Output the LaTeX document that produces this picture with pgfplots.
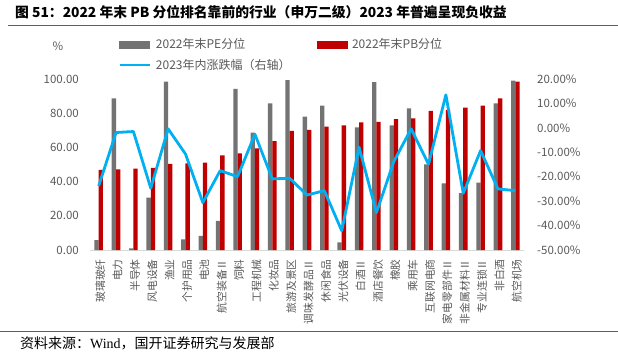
\documentclass[border=0pt]{standalone}
\usepackage{fontspec}
\setmainfont{Noto Sans CJK SC}
\newfontfamily\serifl{Liberation Serif}
\usepackage{pgfplots}
\pgfplotsset{compat=1.18}
\definecolor{peg}{RGB}{115,115,115}
\definecolor{pbr}{RGB}{192,0,0}
\definecolor{lnb}{RGB}{0,176,240}
\definecolor{txg}{RGB}{89,89,89}
\definecolor{axg}{RGB}{217,217,217}
\definecolor{rl}{RGB}{205,45,55}

\pgfplotstableread{
x pe pb ret
0 5.8 46.8 -23.8
1 88.7 47.2 -1.9
2 1.0 47.6 -1.5
3 30.6 48.1 -24.7
4 98.4 50.3 -0.4
5 6.2 50.7 -10.7
6 8.2 51.1 -30.6
7 17.0 55.4 -17.5
8 94.2 56.5 -20.0
9 68.6 59.5 -2.6
10 85.8 63.7 -20.9
11 99.4 69.6 -20.6
12 78.0 70.2 -27.5
13 84.4 72.1 -25.7
14 4.5 72.9 -42.1
15 71.7 74.6 -7.9
16 98.2 75.0 -34.7
17 72.9 76.6 -13.8
18 82.8 77.0 -0.4
19 50.1 81.3 -14.9
20 39.0 81.9 13.5
21 33.2 83.2 -26.8
22 39.4 84.4 -9.3
23 85.8 88.7 -25.0
24 99.0 98.4 -25.7
}\datatable

\begin{document}
\begin{tikzpicture}[x=1pt,y=1pt]
\path[use as bounding box] (0,0) rectangle (618,357);
\node[anchor=west, inner sep=0pt, font=\fontsize{13.8}{15}\selectfont\bfseries] at (15,345) {图 51：2022 年末 PB 分位排名靠前的行业（申万二级）2023 年普遍呈现负收益};
\draw[rl, line width=0.9pt] (8,332) -- (618,332);
\draw[rl, line width=0.9pt] (0,26) -- (618,26);
\node[anchor=west, inner sep=0pt, font=\fontsize{14}{15}\selectfont] at (20,14) {资料来源：{\serifl Wind}，国开证券研究与发展部};

\begin{axis}[
  at={(90pt,107pt)}, anchor=south west,
  scale only axis, width=434pt, height=171pt,
  xmin=-0.5, xmax=24.5, ymin=0, ymax=100,
  axis x line*=bottom, axis y line*=left,
  x axis line style={axg, line width=1pt, -},
  y axis line style={draw=none},
  major tick length=0pt,
  ytick={0,20,...,100},
  /pgf/number format/assume math mode=true,
  yticklabel style={font=\fontsize{11.5}{13}\selectfont, text=txg, inner sep=0pt, xshift=-11pt,
    /pgf/number format/.cd, fixed, fixed zerofill, precision=2},
  xtick={0,...,24},
  xticklabels={玻璃玻纤,电力,半导体,风电设备,渔业,个护用品,电池,航空装备Ⅱ,饲料,工程机械,化妆品,旅游及景区,调味发酵品Ⅱ,休闲食品,光伏设备,白酒Ⅱ,酒店餐饮,橡胶,乘用车,互联网电商,家电零部件Ⅱ,非金属材料Ⅱ,专业连锁Ⅱ,非白酒,航空机场},
  xticklabel shift=9pt,
  xticklabel style={font=\fontsize{10.8}{12}\selectfont, text=txg, rotate=90, anchor=east, inner sep=0pt, yshift=-1.5pt},
  ybar=0pt, bar width=4.3pt,
  clip=false,
]
\addplot[fill=peg, draw=none] table[x=x, y=pe] {\datatable};
\addplot[fill=pbr, draw=none] table[x=x, y=pb] {\datatable};
\node[font=\fontsize{11.5}{13}\selectfont, text=txg] at (rel axis cs:-0.0737,1.193) {\%};
\end{axis}

\begin{axis}[
  at={(90pt,107pt)}, anchor=south west,
  scale only axis, width=434pt, height=171pt,
  xmin=-0.5, xmax=24.5, ymin=-50, ymax=20,
  axis x line=none, axis y line*=right,
  y axis line style={draw=none},
  major tick length=0pt,
  ytick={-50,-40,...,20},
  /pgf/number format/assume math mode=true,
  yticklabel={\pgfmathprintnumber[fixed, fixed zerofill, precision=2]{\tick}\%},
  yticklabel style={font=\fontsize{11.5}{13}\selectfont, text=txg, inner sep=0pt, anchor=west, xshift=13pt},
  legend columns=2,
  legend cell align=left,
  legend style={at={(0.0645,1.25)}, anchor=north west, draw=none, fill=none,
    font=\fontsize{12}{14}\selectfont, text=txg, inner sep=0pt,
    /tikz/every even column/.append style={column sep=24pt}, row sep=5pt},
]
\addlegendimage{legend image code/.code={\fill[peg] (0pt,-3.5pt) rectangle (30pt,3.5pt); \path (33pt,0pt);}}
\addlegendentry{2022年末PE分位}
\addlegendimage{legend image code/.code={\fill[pbr] (0pt,-3.5pt) rectangle (30pt,3.5pt); \path (33pt,0pt);}}
\addlegendentry{2022年末PB分位}
\addplot[lnb, line width=2.8pt, line join=round, mark=none,
  legend image code/.code={\draw[lnb, line width=2.8pt] (0pt,0pt) -- (30pt,0pt); \path (33pt,0pt);}]
  table[x=x, y=ret] {\datatable};
\addlegendentry{2023年内涨跌幅（右轴）}
\end{axis}
\end{tikzpicture}
\end{document}
